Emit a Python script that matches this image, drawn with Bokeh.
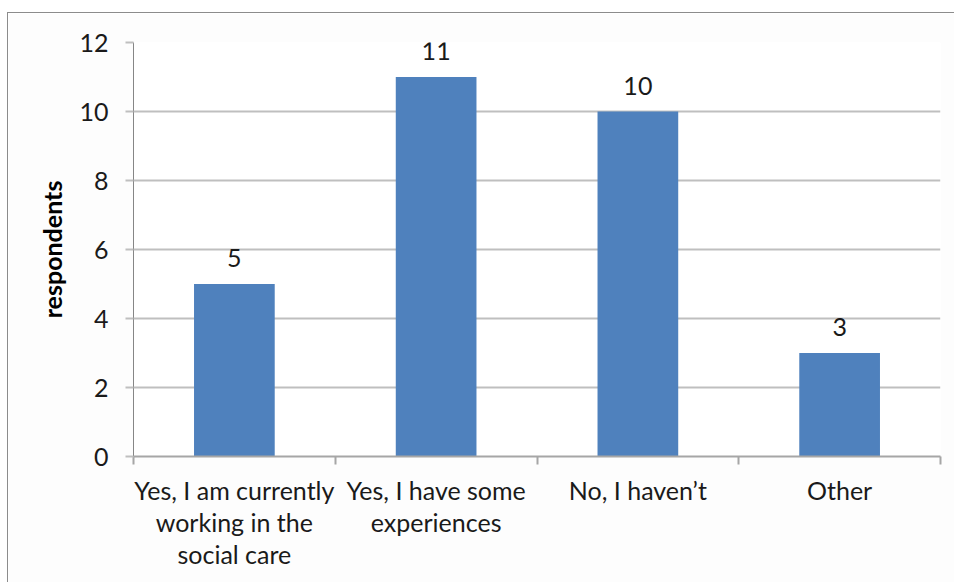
from bokeh.plotting import figure
from bokeh.models import Range1d, FixedTicker, ColumnDataSource, LinearAxis
from bokeh.core.properties import value
from bokeh.embed import file_html
from bokeh.resources import INLINE

categories = ["Yes, I am currently\nworking in the\nsocial care",
              "Yes, I have some\nexperiences",
              "No, I haven\u2019t",
              "Other"]
values = [5, 11, 10, 3]
y_ticks = [0, 2, 4, 6, 8, 10, 12]

xs = [i + 0.5 for i in range(len(categories))]
src = ColumnDataSource(dict(x=xs, top=values, lab=[str(v) for v in values]))

FONT = "Lato"
TXT = "#1a1a1a"

p = figure(width=947, height=570, output_backend="svg", toolbar_location=None,
           x_range=Range1d(0, len(categories)), y_range=Range1d(0, 12),
           min_border_left=125, min_border_right=15, min_border_top=29, min_border_bottom=127,
           styles={"margin-left": "7px", "margin-top": "12px",
                   "border-left": "1px solid #8c8c8c", "border-top": "1px solid #8c8c8c"})
p.outline_line_color = None
p.background_fill_color = "#ffffff"
p.border_fill_color = "#fdfdfd"

p.vbar(x="x", top="top", width=0.4, source=src, fill_color="#4F81BD", line_color=None)
p.text(x="x", y="top", text="lab", source=src, text_align="center", text_baseline="alphabetic",
       y_offset=-26, text_font=value(FONT), text_font_size="25px", text_color=TXT)

# category labels split into lines; each line is its own stacked axis
lines = [c.split("\n") for c in categories]
nlines = max(len(l) for l in lines)
line_rows = [[l[k] if k < len(l) else "" for l in lines] for k in range(nlines)]

# x axis (first line of labels)
p.xaxis.ticker = FixedTicker(ticks=xs, minor_ticks=list(range(len(categories) + 1)))
p.xaxis.major_label_overrides = {x: t for x, t in zip(xs, line_rows[0])}
p.xaxis.major_tick_line_color = None
p.xaxis.minor_tick_line_color = "#a6a6a6"
p.xaxis.minor_tick_line_width = 2
p.xaxis.minor_tick_out = 8
p.xaxis.minor_tick_in = 0
p.xaxis.axis_line_color = "#a6a6a6"
p.xaxis.axis_line_width = 2
p.xaxis.major_label_standoff = 10
p.xaxis.major_label_text_font = FONT
p.xaxis.major_label_text_font_size = "25px"
p.xaxis.major_label_text_color = TXT
p.xgrid.grid_line_color = None

for row in line_rows[1:]:
    ax = LinearAxis(ticker=FixedTicker(ticks=xs),
                    major_label_overrides={x: t for x, t in zip(xs, row)},
                    axis_line_color=None, major_tick_line_color=None, minor_tick_line_color=None,
                    major_tick_out=0, major_tick_in=0, major_label_standoff=-1,
                    major_label_text_font=FONT, major_label_text_font_size="25px",
                    major_label_text_color=TXT)
    p.add_layout(ax, "below")

# y axis
p.yaxis.ticker = FixedTicker(ticks=y_ticks)
p.yaxis.minor_tick_line_color = None
p.yaxis.major_tick_out = 8
p.yaxis.major_tick_in = 0
p.yaxis.major_tick_line_color = "#bfbfbf"
p.yaxis.major_tick_line_width = 2
p.yaxis.axis_line_color = "#868686"
p.yaxis.axis_line_width = 1
p.yaxis.major_label_standoff = 17
p.yaxis.major_label_text_font = FONT
p.yaxis.major_label_text_font_size = "25px"
p.yaxis.major_label_text_color = TXT
p.yaxis.axis_label = "respondents"
p.yaxis.axis_label_text_font = FONT
p.yaxis.axis_label_text_font_size = "25px"
p.yaxis.axis_label_text_font_style = "bold"
p.yaxis.axis_label_text_color = "#000000"
p.yaxis.axis_label_standoff = 9
p.ygrid.grid_line_color = "#bfbfbf"
p.ygrid.grid_line_width = 2

open("out.html", "w").write(file_html(p, INLINE))
